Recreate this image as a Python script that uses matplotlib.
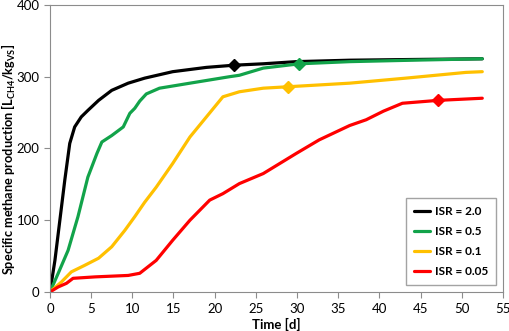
import matplotlib.pyplot as plt

plt.rcParams['font.family'] = ['Lato', 'DejaVu Sans']
plt.rcParams['mathtext.fontset'] = 'custom'
plt.rcParams['mathtext.rm'] = 'Lato'
plt.rcParams['mathtext.bf'] = 'Lato:bold'

# ISR = 2.0
t_black = [0, 0.6, 1.2, 1.8, 2.4, 3.0, 3.8, 4.6, 5.9, 7.5, 9.5, 11.5, 14.9, 19.0, 22.3, 25.9, 29.9, 36.4, 44.0, 52.5]
y_black = [0, 44, 100, 156, 207, 230, 244, 253, 267, 281, 291, 298, 307, 313, 316, 318, 321, 323, 324, 325]

# ISR = 0.5
t_green = [0, 1.0, 2.2, 3.4, 4.6, 5.7, 6.3, 7.5, 8.9, 9.7, 10.3, 10.9, 11.7, 13.3, 17.0, 21.8, 23.0, 25.9, 30.3, 36.4, 44.0, 52.5]
y_green = [0, 26, 58, 105, 160, 193, 209, 218, 230, 249, 256, 266, 276, 284, 291, 300, 302, 312, 318, 321, 323, 325]

# ISR = 0.1
t_yellow = [0, 1.4, 2.6, 4.2, 5.9, 7.5, 9.1, 10.3, 11.5, 12.9, 14.9, 17.0, 19.0, 21.0, 23.0, 25.9, 28.9, 36.4, 43.2, 50.5, 52.5]
y_yellow = [0, 14, 28, 37, 47, 63, 86, 105, 125, 146, 179, 216, 244, 272, 279, 284, 286, 291, 298, 306, 307]

# ISR = 0.05
t_red = [0, 1.0, 2.0, 2.8, 5.5, 9.5, 10.9, 12.9, 14.9, 17.0, 19.4, 21.0, 23.0, 25.9, 29.9, 32.7, 36.4, 38.4, 40.5, 42.8, 47.1, 52.5]
y_red = [0, 7, 12, 19, 21, 23, 26, 44, 72, 100, 128, 137, 151, 165, 193, 212, 232, 240, 252, 263, 267, 270]

labels = ['ISR = 2.0', 'ISR = 0.5', 'ISR = 0.1', 'ISR = 0.05']
colors = ['#000000', '#12A34A', '#FFC000', '#FF0000']
# diamond marker position (index into each series)
marker_idx = [14, 18, 16, 20]

fig = plt.figure(figsize=(5.1, 3.31), dpi=100)
ax = fig.add_axes([0.098, 0.118, 0.888, 0.867])

series = [(t_black, y_black), (t_green, y_green), (t_yellow, y_yellow), (t_red, y_red)]
for (t, y), lab, c, mi in zip(series, labels, colors, marker_idx):
    ax.plot(t, y, color=c, lw=2.3, label=lab, solid_capstyle='round', solid_joinstyle='round')
    ax.plot(t[mi], y[mi], marker='D', color=c, ms=6, ls='none')

ax.set_xlim(0, 55)
ax.set_ylim(0, 400)
ax.set_xticks(range(0, 56, 5))
ax.set_yticks(range(0, 401, 100))
for s in ax.spines.values():
    s.set_color('#8c8c8c')
ax.tick_params(colors='#8c8c8c', labelcolor='black', labelsize=9.5, length=4, direction='out')
ax.tick_params(axis='x', pad=4)

ax.set_xlabel('Time [d]', fontweight='bold', fontsize=9.5, labelpad=2)
ax.set_ylabel(r'Specific methane production [L$_{\mathbf{CH4}}$/kg$_{\mathbf{VS}}$]',
              fontweight='bold', fontsize=9.2)
ax.yaxis.set_label_coords(-0.071, 0.46)

leg = ax.legend(loc='lower right', bbox_to_anchor=(0.985, 0.024), borderaxespad=0,
                fancybox=False, edgecolor='#8c8c8c', prop={'weight': 'bold', 'size': 8.5},
                handlelength=1.3, handletextpad=0.4, labelspacing=0.75, borderpad=0.7)
leg.get_frame().set_linewidth(1.0)

plt.savefig('out.png', dpi=100)
